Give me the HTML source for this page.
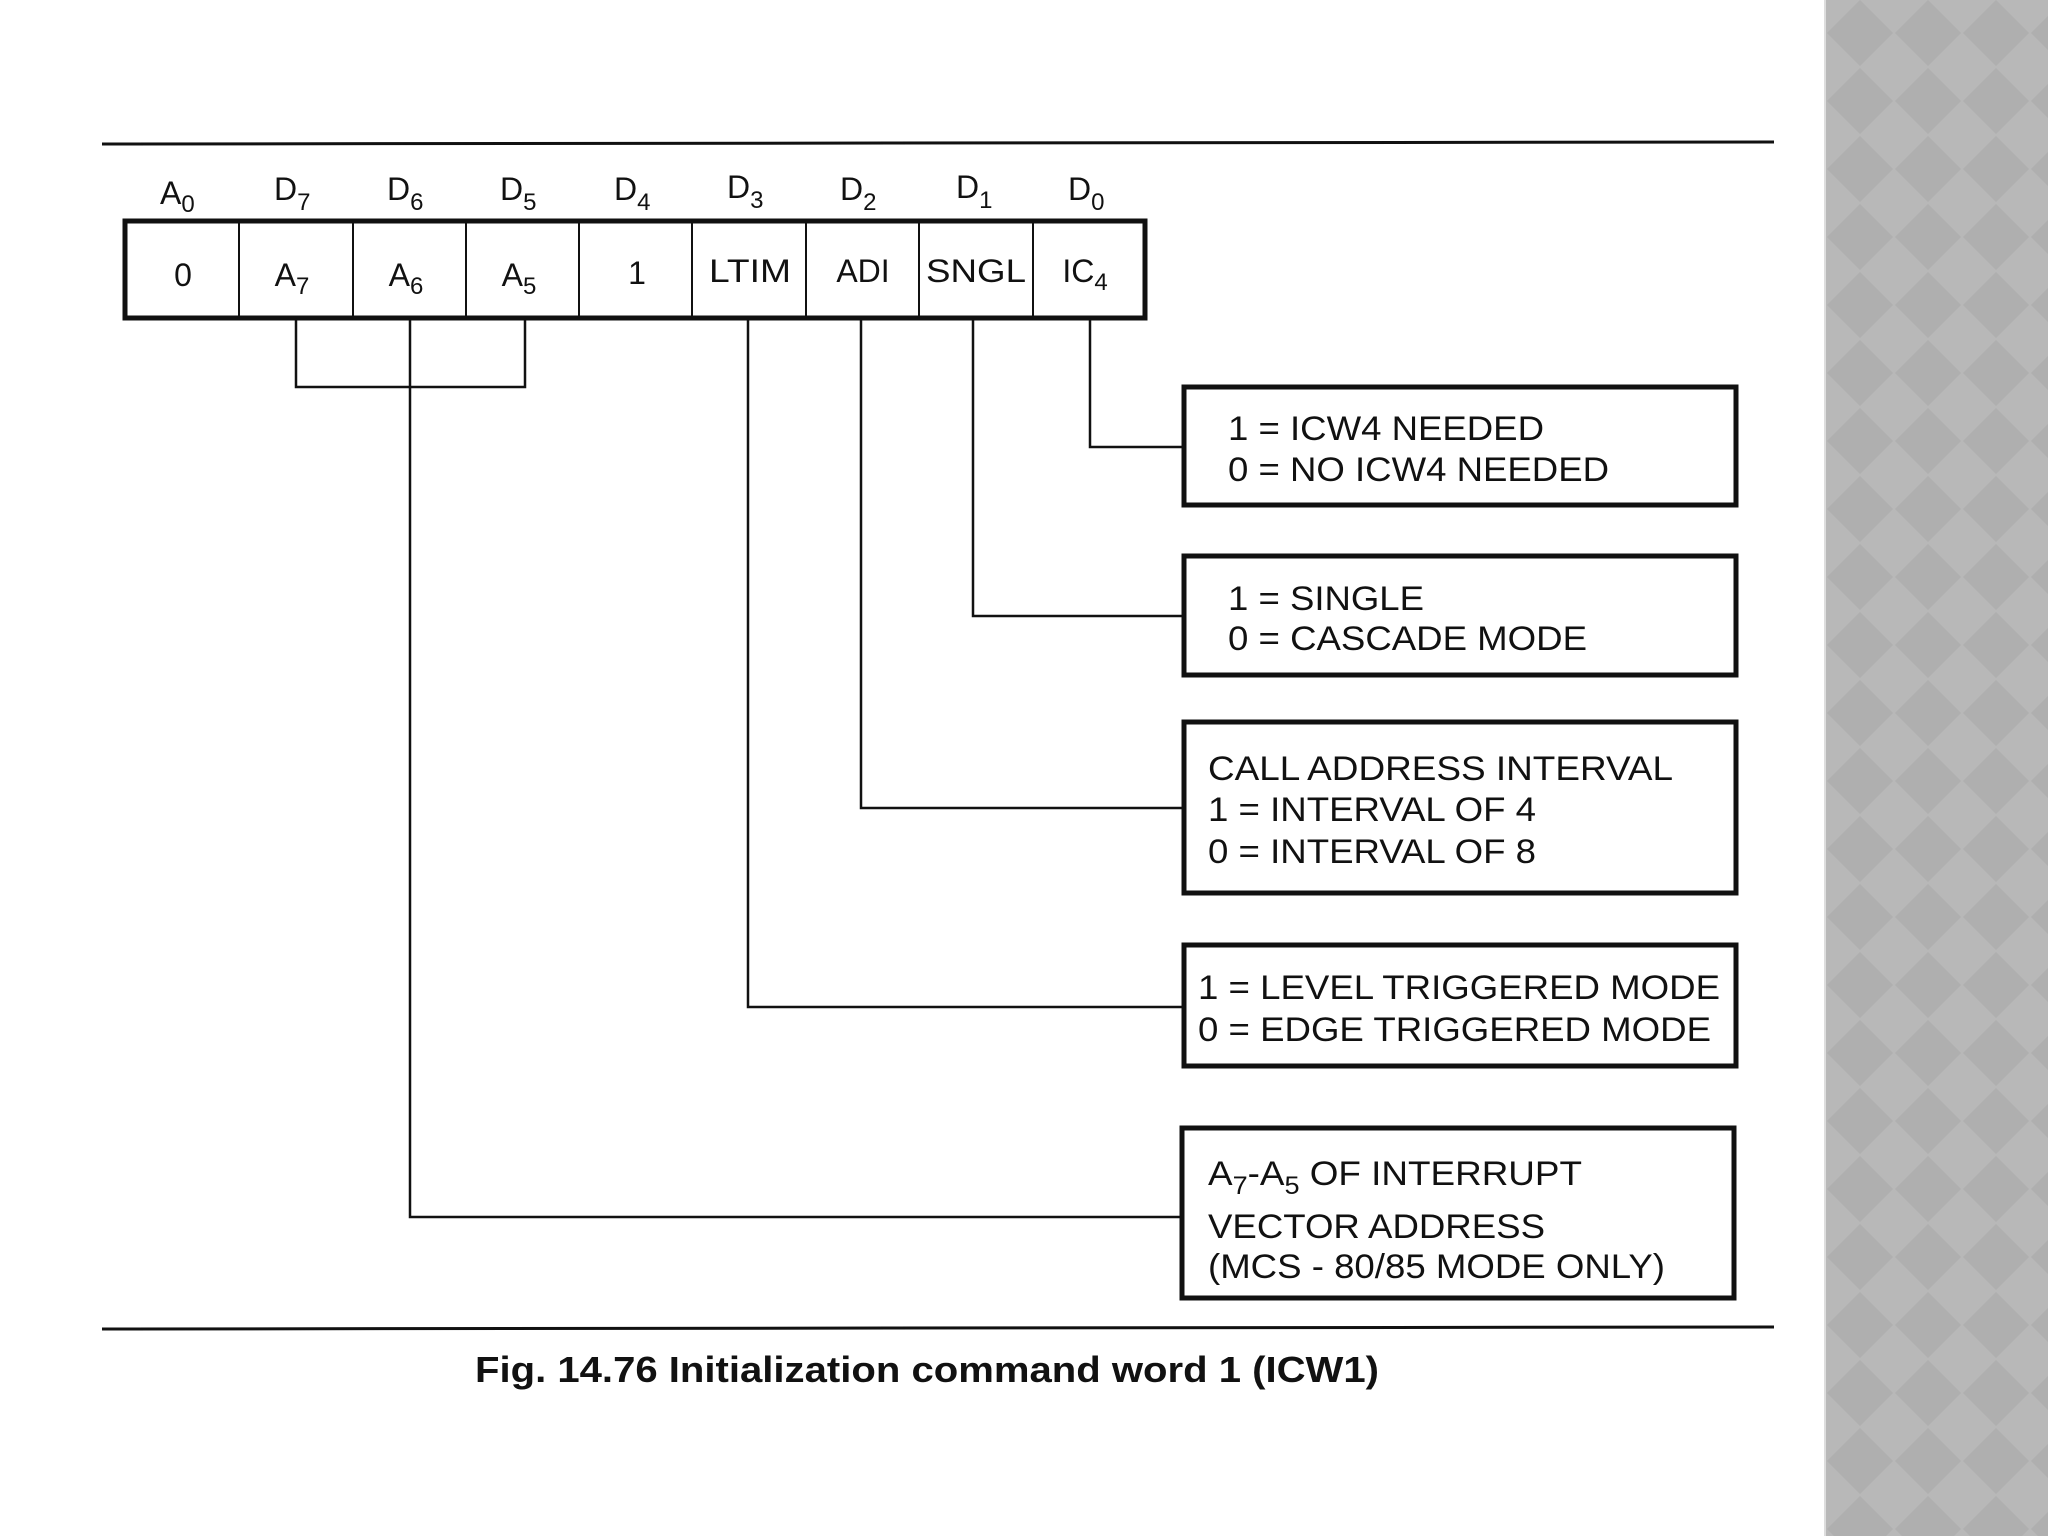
<!DOCTYPE html>
<html><head><meta charset="utf-8"><style>
html,body{margin:0;padding:0;background:#fff}
svg{display:block}
text{font-family:"Liberation Sans",Arial,sans-serif;fill:#111}
</style></head><body>
<svg width="2048" height="1536" viewBox="0 0 2048 1536" xmlns="http://www.w3.org/2000/svg">
<defs>
<pattern id="dia" x="1826" y="-1" width="68" height="68" patternUnits="userSpaceOnUse">
<rect width="68" height="68" fill="#b8b8b8"/>
<polygon points="34,1 67,34 34,67 1,34" fill="#afafaf"/>
</pattern>
</defs>
<rect width="2048" height="1536" fill="#fff"/>
<rect x="1826" y="0" width="222" height="1536" fill="url(#dia)"/>
<line x1="1825" y1="0" x2="1825" y2="1536" stroke="#ddd" stroke-width="2"/>

<line x1="102" y1="144" x2="1774" y2="142" stroke="#111" stroke-width="3"/>
<line x1="102" y1="1329" x2="1774" y2="1327" stroke="#111" stroke-width="3"/>

<g font-size="32">
<text x="160" y="204">A<tspan font-size="24" dy="8">0</tspan></text>
<text x="274" y="200">D<tspan font-size="24" dy="10">7</tspan></text>
<text x="387" y="200">D<tspan font-size="24" dy="10">6</tspan></text>
<text x="500" y="200">D<tspan font-size="24" dy="10">5</tspan></text>
<text x="614" y="200">D<tspan font-size="24" dy="10">4</tspan></text>
<text x="727" y="198">D<tspan font-size="24" dy="10">3</tspan></text>
<text x="840" y="200">D<tspan font-size="24" dy="10">2</tspan></text>
<text x="956" y="198">D<tspan font-size="24" dy="10">1</tspan></text>
<text x="1068" y="200">D<tspan font-size="24" dy="10">0</tspan></text>
</g>

<rect x="125" y="221" width="1020" height="97" fill="#fff" stroke="#111" stroke-width="5"/>
<g stroke="#111" stroke-width="2">
<line x1="239" y1="221" x2="239" y2="318"/>
<line x1="353" y1="221" x2="353" y2="318"/>
<line x1="466" y1="221" x2="466" y2="318"/>
<line x1="579" y1="221" x2="579" y2="318"/>
<line x1="692" y1="221" x2="692" y2="318"/>
<line x1="806" y1="221" x2="806" y2="318"/>
<line x1="919" y1="221" x2="919" y2="318"/>
<line x1="1033" y1="221" x2="1033" y2="318"/>
</g>
<g font-size="32" text-anchor="middle">
<text x="183" y="286">0</text>
<text x="292" y="286">A<tspan font-size="24" dy="8">7</tspan></text>
<text x="406" y="286">A<tspan font-size="24" dy="8">6</tspan></text>
<text x="519" y="286">A<tspan font-size="24" dy="8">5</tspan></text>
<text x="637" y="284">1</text>
<text x="750" y="282" textLength="82" lengthAdjust="spacingAndGlyphs">LTIM</text>
<text x="863" y="282">ADI</text>
<text x="976" y="282" textLength="100" lengthAdjust="spacingAndGlyphs">SNGL</text>
<text x="1085" y="282">IC<tspan font-size="24" dy="8">4</tspan></text>
</g>

<g stroke="#111" stroke-width="2.5" fill="none">
<polyline points="296,320 296,387 525,387 525,320"/>
<polyline points="410,320 410,1217 1183,1217"/>
<polyline points="748,320 748,1007 1183,1007"/>
<polyline points="861,320 861,808 1183,808"/>
<polyline points="973,320 973,616 1183,616"/>
<polyline points="1090,320 1090,447 1183,447"/>
</g>

<g fill="#fff" stroke="#111" stroke-width="5">
<rect x="1184" y="387" width="552" height="118"/>
<rect x="1184" y="556" width="552" height="119"/>
<rect x="1184" y="722" width="552" height="171"/>
<rect x="1184" y="945" width="552" height="121"/>
<rect x="1182" y="1128" width="552" height="170"/>
</g>
<g font-size="34">
<text x="1228" y="440" textLength="316" lengthAdjust="spacingAndGlyphs">1 = ICW4 NEEDED</text>
<text x="1228" y="481" textLength="381" lengthAdjust="spacingAndGlyphs">0 = NO ICW4 NEEDED</text>
<text x="1228" y="610" textLength="196" lengthAdjust="spacingAndGlyphs">1 = SINGLE</text>
<text x="1228" y="650" textLength="359" lengthAdjust="spacingAndGlyphs">0 = CASCADE MODE</text>
<text x="1208" y="780" textLength="465" lengthAdjust="spacingAndGlyphs">CALL ADDRESS INTERVAL</text>
<text x="1208" y="821" textLength="328" lengthAdjust="spacingAndGlyphs">1 = INTERVAL OF 4</text>
<text x="1208" y="863" textLength="328" lengthAdjust="spacingAndGlyphs">0 = INTERVAL OF 8</text>
<text x="1198" y="999" textLength="522" lengthAdjust="spacingAndGlyphs">1 = LEVEL TRIGGERED MODE</text>
<text x="1198" y="1041" textLength="513" lengthAdjust="spacingAndGlyphs">0 = EDGE TRIGGERED MODE</text>
<text x="1208" y="1185" textLength="374" lengthAdjust="spacingAndGlyphs">A<tspan font-size="25" dy="9">7</tspan><tspan dy="-9">-A</tspan><tspan font-size="25" dy="9">5</tspan><tspan dy="-9"> OF INTERRUPT</tspan></text>
<text x="1208" y="1238" textLength="337" lengthAdjust="spacingAndGlyphs">VECTOR ADDRESS</text>
<text x="1208" y="1278" textLength="457" lengthAdjust="spacingAndGlyphs">(MCS - 80/85 MODE ONLY)</text>
</g>

<text x="475" y="1382" font-size="36" font-weight="bold" textLength="904" lengthAdjust="spacingAndGlyphs">Fig. 14.76 Initialization command word 1 (ICW1)</text>
</svg>
</body></html>
